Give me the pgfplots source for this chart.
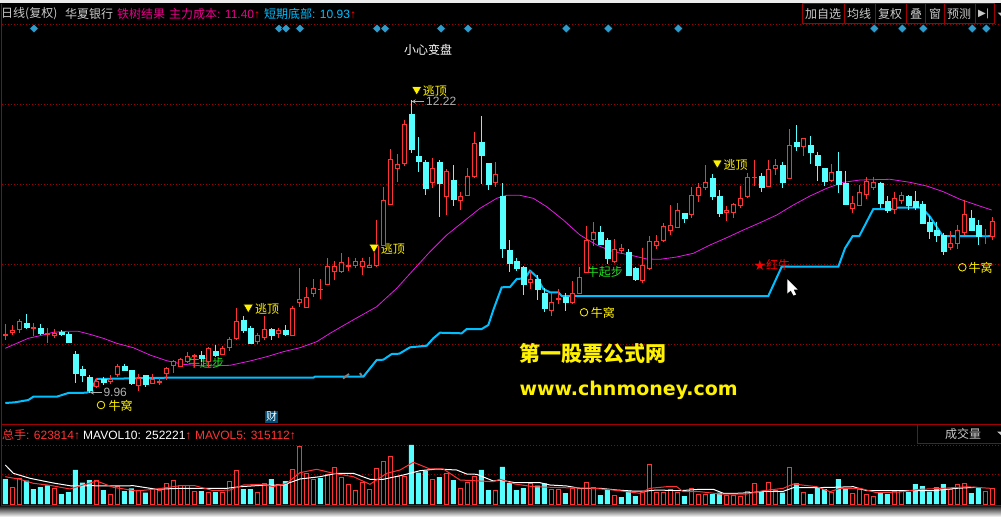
\documentclass[border=0pt]{standalone}
\usepackage{fontspec}
\usepackage{pgfplots}
\usepackage{pgfplotstable}
\pgfplotsset{compat=1.18}
\setmainfont{Liberation Sans}
\newfontfamily\cjk{Noto Sans CJK SC}
\newfontfamily\sym{DejaVu Sans}

\definecolor{kred}{HTML}{FF3333}
\definecolor{kcyan}{HTML}{55FFFF}
\definecolor{lineblue}{HTML}{00BFFF}
\definecolor{linemag}{HTML}{E818E8}
\definecolor{dimred}{HTML}{A00000}
\definecolor{diam}{HTML}{2E9BCB}
\definecolor{lab}{HTML}{C8C8C8}
\definecolor{arrowgray}{HTML}{B0B0B0}

% candles: bar number, body top, body bottom, high, low (picture rows, 0 at the top)
\pgfplotstableread{
i top bot high low
0 334.0 335.0 324.3 340.0
1 330.0 332.7 325.3 334.7
2 321.3 329.7 319.3 333.3
4 327.7 328.3 323.3 336.0
6 333.3 334.0 328.0 342.7
7 333.0 335.0 329.0 337.7
13 381.0 386.7 377.7 388.0
15 379.0 381.7 375.0 384.0
16 366.3 374.7 364.0 376.7
19 378.3 385.0 374.0 390.7
21 379.0 383.3 374.0 384.0
22 381.0 382.3 378.3 385.0
23 368.7 373.7 367.3 380.0
24 361.7 365.7 360.0 372.7
25 359.3 366.0 358.3 366.7
26 356.3 361.0 352.0 363.3
27 355.7 356.7 354.0 366.7
29 348.0 361.7 346.7 366.7
31 348.3 354.3 346.0 355.0
32 339.3 347.3 337.3 350.7
33 321.3 338.7 308.0 340.0
36 335.3 341.0 332.7 344.0
37 329.3 337.3 316.0 340.0
39 330.3 333.7 328.3 337.7
41 308.3 335.3 306.0 336.0
42 299.3 302.7 268.0 307.3
43 297.3 307.3 287.0 308.0
44 288.3 293.7 279.3 296.7
45 289.0 289.7 279.3 299.0
46 266.0 284.3 258.0 285.0
47 266.3 271.0 261.0 280.0
48 262.3 271.3 253.0 272.7
49 265.0 266.3 256.7 270.7
50 261.3 265.3 258.3 267.7
51 261.3 266.0 257.7 275.0
52 265.3 267.3 256.7 268.3
53 245.0 265.7 220.0 267.3
54 200.3 245.0 187.0 246.0
55 159.3 204.3 149.0 205.0
56 164.3 168.3 154.0 181.7
57 124.3 163.3 120.0 166.0
61 168.3 182.7 158.3 187.7
63 171.0 196.3 169.3 215.0
65 196.0 200.3 191.7 210.0
66 176.3 195.3 168.3 196.0
67 143.3 176.7 131.7 177.7
70 174.3 182.3 162.0 186.7
75 279.0 282.0 270.7 289.3
78 302.0 310.7 293.3 316.0
79 298.3 299.7 289.3 304.0
81 293.7 302.7 281.0 304.0
82 277.3 293.3 266.7 294.0
83 240.3 272.7 226.0 273.3
84 232.3 239.7 222.0 246.0
87 249.7 261.7 239.0 262.7
88 248.3 250.0 244.0 254.0
91 265.3 280.7 247.7 283.3
92 241.3 268.7 236.0 270.0
93 241.3 245.7 235.0 249.0
94 226.3 240.7 223.3 241.7
95 225.3 230.3 205.0 235.0
96 210.0 227.7 203.3 228.3
98 195.3 214.7 187.3 217.7
99 187.3 195.3 183.3 202.0
100 182.3 187.7 165.0 190.0
103 210.0 212.7 206.0 220.7
104 204.3 212.7 202.7 217.7
105 198.3 205.7 186.0 208.3
106 177.3 196.7 173.3 198.3
107 177.0 177.7 160.0 186.0
109 169.3 186.0 160.0 186.7
110 165.3 168.7 159.3 175.0
112 145.3 178.7 129.0 179.3
114 138.3 146.3 138.3 155.7
118 172.3 180.7 164.0 181.7
121 203.3 208.3 196.0 212.7
122 192.3 205.0 185.0 206.0
123 181.0 194.3 176.7 199.0
124 182.3 187.7 176.7 190.0
127 198.3 209.0 192.0 214.0
128 195.3 200.0 191.7 204.0
135 243.3 247.7 231.0 250.0
136 230.3 243.7 225.0 249.3
137 214.3 232.7 200.0 235.0
140 235.0 235.7 229.0 244.0
141 221.0 236.0 217.0 240.0
}\candlesred

\pgfplotstableread{
i top bot high low
3 323.0 327.0 314.0 329.0
5 328.0 333.3 324.3 335.0
8 332.3 333.7 330.0 335.7
9 334.3 342.0 331.7 343.3
10 354.0 373.0 351.0 382.7
11 369.0 375.0 366.0 381.7
12 377.3 390.0 375.0 392.7
14 378.7 381.7 376.7 384.7
17 366.0 369.7 364.0 370.0
18 370.0 382.7 370.0 384.7
20 375.0 384.0 375.0 386.7
28 355.0 358.0 351.0 361.7
30 351.0 355.0 345.0 356.7
34 320.0 330.0 316.0 332.7
35 328.0 343.3 326.0 344.0
38 329.0 335.0 328.3 340.0
40 330.0 334.3 325.0 336.0
58 114.0 149.3 100.0 153.3
59 156.0 160.7 137.3 171.7
60 162.0 187.7 160.0 195.0
62 162.0 183.0 160.0 216.7
64 180.0 198.7 165.0 206.0
68 142.0 155.0 116.0 184.0
69 163.3 184.3 163.3 190.0
71 196.3 247.7 183.3 258.3
72 250.0 262.7 240.0 271.7
73 261.0 267.7 258.3 270.7
74 267.3 283.7 266.0 295.0
76 279.0 289.0 275.0 300.0
77 293.0 308.0 288.3 311.7
80 296.7 301.7 293.3 311.0
85 232.0 244.0 226.0 245.0
86 240.0 257.7 238.0 264.0
89 252.0 275.0 249.3 276.0
90 268.0 279.0 266.7 280.7
97 213.0 217.7 212.7 223.3
101 178.0 196.0 174.0 200.0
102 196.0 212.7 190.0 216.7
108 176.0 187.0 173.3 192.0
111 165.3 182.0 161.7 187.7
113 142.0 145.7 125.0 150.7
115 145.0 151.7 136.0 164.0
116 155.0 164.7 151.7 181.0
117 168.3 181.0 168.3 186.0
119 171.0 184.0 152.0 192.7
120 182.7 204.3 171.0 205.0
125 182.7 202.7 181.7 208.3
126 201.0 210.0 196.0 213.3
129 196.0 205.0 195.0 210.0
130 201.0 206.7 191.0 210.0
131 204.0 223.3 201.0 224.0
132 222.0 230.7 216.0 239.0
133 230.0 235.0 221.7 241.7
134 235.0 251.0 232.7 255.0
138 218.0 230.0 210.0 230.7
139 225.0 236.0 220.0 245.0
}\candlescyan

% volume bars: bar number, height above the baseline
\pgfplotstableread{
i h
1 16.7
2 25.7
7 16
13 23.3
15 10
16 17.3
19 13.3
21 14.7
22 14
23 20.7
24 23.7
25 18.3
26 18.3
27 12.7
29 11.7
31 11.3
32 22.7
33 33.7
36 11.7
37 20.7
39 19.3
41 34.7
42 57.7
43 30.7
44 25
46 29
47 36.7
48 26.7
49 20
50 14
51 22
52 15
53 35.7
54 42.7
55 47.7
56 27.3
57 27.3
61 24.7
63 30
65 15.7
66 21.7
67 27.3
70 14
75 20.7
78 14.7
79 14.7
81 15.7
82 15.7
83 21.7
84 16.3
87 8.7
91 11.3
92 39.7
93 11.7
94 11.7
95 14.7
96 11.3
98 15.7
99 10
100 10
103 8.7
104 9
105 7.7
106 12.7
107 20.7
109 21.7
110 13.3
112 36.7
114 11.7
118 12
121 10.7
122 15
123 10
124 7.7
127 13
128 12.3
135 14.7
136 19.7
137 20.7
140 12.7
141 15.7
}\volred

\pgfplotstableread{
i h
0 25
3 23.3
4 15
5 17
6 18.7
8 10
9 12
10 34
11 21.3
12 24
14 14
17 13
18 15.7
20 11.3
28 13
30 12
34 15
35 15
38 25
40 23
45 26
58 59
59 31.3
60 33.3
62 27
64 24
68 34
69 14
71 37
72 21
73 14
74 16
76 18.3
77 20.7
80 11
85 9
86 14.3
88 7
89 13.3
90 8
97 8
101 10
102 11.3
108 12
111 11.3
113 20.7
115 10
116 16
117 15
119 25
120 16
125 12
126 10
129 12
130 20
131 18
132 12.3
133 16.7
134 20
138 11
139 16.3
}\volcyan

\pgfplotsset{
  pxaxis/.style={hide axis, scale only axis, xmin=0, xmax=1001, clip=false},
  candle/.style={
    scatter, only marks, mark=*, mark size=0pt,
    mark options={draw=none, fill=none},
    visualization depends on={\thisrow{bot}-\thisrow{top} \as \bodyh},
    visualization depends on={\thisrow{top}-\thisrow{high} \as \wickup},
    visualization depends on={\thisrow{low}-\thisrow{top} \as \wickdn},
    scatter/@post marker code/.code={\endscope},
  },
  griddot/.style={dimred, line width=0.8pt, dash pattern=on 1pt off 2pt},
}
\newcommand\lab[4][12]{\node[anchor=west, inner sep=0pt, font=\fontsize{#1}{#1}\selectfont] at (axis cs:#2,#3) {#4};}

\begin{document}
\begin{tikzpicture}
\path[use as bounding box] (0pt,0pt) rectangle (1001pt,517pt);
\fill[black] (0pt,0pt) rectangle (1001pt,517pt);
\fill[white!92!black] (0pt,513.5pt) rectangle (1001pt,517pt);
\shade[top color=black!90, bottom color=white] (0pt,0pt) rectangle (1001pt,11pt);

\begin{axis}[pxaxis, at={(0pt,0pt)}, anchor=south west, width=1001pt, height=517pt, ymin=0, ymax=517, y dir=reverse]
% grid and frame
\addplot[griddot] coordinates {(2,24) (1001,24)};
\addplot[griddot] coordinates {(2,104.3) (1001,104.3)};
\addplot[griddot] coordinates {(2,184.3) (1001,184.3)};
\addplot[griddot] coordinates {(2,264.3) (1001,264.3)};
\addplot[griddot] coordinates {(2,344.3) (1001,344.3)};
\addplot[griddot] coordinates {(2,445.3) (1001,445.3)};
\addplot[griddot] coordinates {(2,474.3) (1001,474.3)};
\addplot[dimred, line width=1pt] coordinates {(1,3.5) (1,505)};
\addplot[dimred, line width=1pt] coordinates {(1,424.5) (1001,424.5)};
\addplot[dimred, line width=1pt] coordinates {(1,505) (1001,505)};

% candles
\addplot[candle,
  scatter/@pre marker code/.code={%
    \scope
    \draw[kcyan, line width=1pt] (0,\wickup pt) -- (0,-\wickdn pt);
    \fill[kcyan] (-2.5pt,0pt) rectangle (2.5pt,-\bodyh pt);
  }] table[x expr={5.33+7*\thisrow{i}}, y=top] {\candlescyan};
\addplot[candle,
  scatter/@pre marker code/.code={%
    \scope
    \draw[kred, line width=1pt] (0,\wickup pt) -- (0,-\wickdn pt);
    \draw[kred, line width=1pt, fill=black] (-2pt,0pt) rectangle (2pt,-\bodyh pt);
  }] table[x expr={5.33+7*\thisrow{i}}, y=top] {\candlesred};

% 主力成本
\addplot[linemag, line width=0.8pt] coordinates {
(5.3,348.3) (16.7,343.3) (28.3,338.3) (40,335.7) (53.3,332.3) (66.7,331.3) (78.3,331.3) (90,334.3)
(103.3,338.3) (116.7,343.3) (133.3,347.7) (150,355) (166.7,360.7) (183.3,364.3) (200,365.7) (216.7,365.7)
(230,365.3) (250,361) (266.7,356.7) (283.3,351.7) (300,347.7) (316.7,341.7) (330,333.3) (350,321.7)
(376.7,306.7) (396.7,288.3) (413.3,270) (430,251.7) (446.7,235) (463.3,221.7) (480,208.3) (496.7,198.3)
(506.7,195.3) (520,195.3) (533.3,198.3) (546.7,206.7) (563.3,220) (580,235) (596.7,245) (613.3,251.7)
(630,255) (646.7,259) (660,259.3) (676.7,257) (693.3,253.3) (710,245) (726.7,237.7) (743.3,230)
(760,222.7) (776.7,215) (793.3,205) (810,196) (826.7,188.3) (843.3,182.3) (860,180) (890,179.3)
(910,182.3) (926.7,186) (943.3,191.7) (960,199.3) (976.7,205) (991.7,210)};

% 短期底部
\addplot[lineblue, line width=2pt] coordinates {
(5.3,403) (15,402.3) (28.3,400) (33.3,396.7) (56.7,396.7) (68.3,393) (86.7,392.7) (90,390.7) (96.7,379)
(166.7,377.7) (313.3,377.7) (315,376.7) (363.3,376.7) (376.7,360) (383.3,359.7) (391.7,354) (399.3,353.7)
(410,347.3) (426.7,345.7) (433.3,338.3) (440,332.7) (461.7,333.3) (466.7,329) (481.7,329) (488.3,325)
(493.3,310) (501.7,287.3) (510,287) (516.7,279) (525,278.3) (530,270.7) (536.7,276.7) (543.3,289)
(550,292.3) (558.3,292.3) (561.7,296) (768.3,296) (781.7,266.7) (838.3,266.7) (845,248.3) (852.7,236)
(859.3,236) (873.3,209) (893.3,209) (896.7,207.7) (921.7,207.7) (930,216.7) (942.7,236) (992.7,236)};

% small grey ticks on the line
\addplot[gray, line width=2pt] coordinates {(343,378.5) (349,374)};
\addplot[gray, line width=2pt] coordinates {(360,373) (362,376.5)};

% signal diamonds
\addplot[only marks, mark=square*, mark size=3.2pt, mark options={rotate=45, draw=none, fill=diam}] coordinates {
(34,28.5) (279,28.5) (286,28.5) (300,28.5) (377,28.5) (385,28.5) (441,28.5) (468,28.5)
(566.3,28.5) (608.3,28.5) (678.3,28.5) (874.3,28.5) (902.3,28.5) (923.3,28.5) (972.3,28.5) (986.3,28.5)};

% 逃顶 triangles
\addplot[only marks, mark=triangle*, mark size=5.5pt, mark options={rotate=180, draw=none, fill=yellow}] coordinates {
(248.3,307.2) (416.7,89.5) (374,247.2) (717.3,162.8)};
\lab{255}{309}{\color{yellow}\cjk 逃顶}
\lab{422.7}{91}{\color{yellow}\cjk 逃顶}
\lab{380.7}{249}{\color{yellow}\cjk 逃顶}
\lab{723.3}{165}{\color{yellow}\cjk 逃顶}

% 牛窝 rings
\addplot[only marks, mark=o, mark size=3.8pt, mark options={draw=yellow, line width=0.8pt}] coordinates {
(101,405) (584,312.3) (962.3,267.3)};
\lab{108.3}{406}{\color{yellow}\cjk 牛窝}
\lab{590.7}{313}{\color{yellow}\cjk 牛窝}
\lab{968.3}{268}{\color{yellow}\cjk 牛窝}

\definecolor{qigreen}{HTML}{22E022}
\lab{188}{363}{\color{qigreen}\cjk 牛起步}
\lab{586.7}{272}{\color{qigreen}\cjk 牛起步}
\lab[14]{753.5}{265}{\color{red}\sym ★}
\lab{766}{265}{\color{red}\cjk 红牛}
\lab{404}{50}{\color{white}\cjk 小心变盘}

% price callouts
\draw[arrowgray, -stealth, line width=0.8pt] (axis cs:424.3,101.5) -- (axis cs:411.7,101.5);
\lab{426}{101.5}{\color{arrowgray}12.22}
\draw[arrowgray, -stealth, line width=0.8pt] (axis cs:101.7,392.5) -- (axis cs:90,392.5);
\lab{103.3}{392.5}{\color{arrowgray}9.96}

% heading row
\lab{1}{14}{\color{lab}\cjk 日线(复权)}
\lab{65}{14}{\color{lab}\cjk 华夏银行}
\lab{117}{14}{\color{magenta}\cjk 铁树结果}
\lab{169}{14}{\color{magenta}{\cjk 主力成本}: 11.40{\color{red}↑}}
\lab{264}{14}{\color{lineblue}{\cjk 短期底部}: 10.93{\color{red}↑}}

% buttons
\draw[dimred, line width=1pt] (axis cs:802.5,3.5) rectangle (axis cs:844,23.5);
\draw[dimred, line width=1pt] (axis cs:844,3.5) rectangle (axis cs:875.5,23.5);
\draw[dimred, line width=1pt] (axis cs:875.5,3.5) rectangle (axis cs:906.5,23.5);
\draw[dimred, line width=1pt] (axis cs:906.5,3.5) rectangle (axis cs:925.5,23.5);
\draw[dimred, line width=1pt] (axis cs:925.5,3.5) rectangle (axis cs:944.5,23.5);
\draw[dimred, line width=1pt] (axis cs:944.5,3.5) rectangle (axis cs:975.5,23.5);
\draw[dimred, line width=1pt] (axis cs:975.5,3.5) rectangle (axis cs:994.5,23.5);
\lab{805}{14}{\color{lab}\cjk 加自选}
\lab{847}{14}{\color{lab}\cjk 均线}
\lab{878}{14}{\color{lab}\cjk 复权}
\lab{910}{14}{\color{lab}\cjk 叠}
\lab{929}{14}{\color{lab}\cjk 窗}
\lab{947}{14}{\color{lab}\cjk 预测}
\lab[10]{978}{14}{\color{lab}\sym ▶|}
\addplot[fill=lab, draw=none] coordinates {(997.5,12.5) (1001,12.5) (1001,16)} --cycle;

% 财 tag
\fill[blue!35!cyan!45!black] (axis cs:265,410.7) rectangle (axis cs:277.7,422.7);
\lab[11]{265.8}{416.7}{\color{white}\cjk 财}

% watermark
\lab[21]{519.3}{353}{\color{yellow}\cjk\bfseries 第一股票公式网}
\node[anchor=base west, inner sep=0pt, font=\fontsize{19}{19}\selectfont\sym\bfseries, text=yellow] at (axis cs:519.3,395.7) {www.chnmoney.com};

% mouse pointer
\addplot[fill=white, draw=none] coordinates {(787.3,279.3) (787.3,293.5) (790.7,290.5) (793.5,295.5) (796,294.5) (793.5,289.5) (797.5,289.5)} --cycle;

% volume heading
\lab{2}{435}{\color{kred}{\cjk 总手}: 623814↑}
\lab{83}{435}{\color{white}MAVOL10: 252221{\color{kred}↑}}
\lab{195}{435}{\color{kred}MAVOL5: 315112↑}
\draw[dimred, line width=1pt] (axis cs:917.5,424.5) -- (axis cs:917.5,443.5) -- (axis cs:1001,443.5);
\lab{945}{434}{\color{lab}\cjk 成交量}
\addplot[fill=lab, draw=none] coordinates {(997,431.5) (1001,431.5) (1001,435)} --cycle;
\end{axis}

\begin{axis}[pxaxis, at={(0pt,13pt)}, anchor=south west, width=1001pt, height=84pt, ymin=0, ymax=84]
\addplot[ybar, bar shift=0pt, bar width=5pt, draw=none, fill=kcyan] table[x expr={5.33+7*\thisrow{i}}, y=h] {\volcyan};
\addplot[ybar, bar shift=0pt, bar width=4pt, draw=kred, line width=1pt, fill=black] table[x expr={5.33+7*\thisrow{i}}, y=h] {\volred};
% MAVOL10
\addplot[white, line width=1pt] coordinates {
(5.3,39) (13.3,30.7) (30,25.7) (43.3,23) (55,20.7) (71.7,18) (90,18.3) (116.7,18) (133.3,18.3) (156.7,14.7)
(180,15.7) (226.7,15.7) (240,17.3) (266.7,19) (283.3,19) (300,25) (320,27.3) (336.7,30.7) (353.3,30.7)
(370,24.7) (383.3,24.7) (403.3,29) (420,33.3) (436.7,35) (456.7,34) (466.7,30) (476.7,29.7) (493.3,23)
(500,24) (515,21.3) (540,21.3) (550,19) (566.7,18) (580,15.7) (600,15.7) (616.7,14) (631.7,13) (646.7,13)
(656.7,14) (680,13.3) (700,14.7) (713.3,14.7) (723.3,10.7) (736.7,10.7) (750,11.3) (763.3,12.7) (783.3,12.7)
(793.3,16.3) (813.3,16.3) (833.3,16.7) (853.3,17.3) (866.7,13.3) (900,13.3) (933.3,13.3) (956.7,15.7) (976.7,16.7)};
% MAVOL5
\addplot[kred, line width=1pt] coordinates {
(5.3,27.3) (20,24.7) (33.3,20.7) (50,18.7) (70,15) (96.7,23) (113.3,16.7) (136.7,13) (156.7,15) (180,18.3)
(195,18.3) (213.3,13.3) (230,14) (243.3,19) (263.3,19.7) (273.3,17.3) (286.7,20.7) (300,31.3) (316.7,34.7)
(333.3,30.7) (353.3,27.3) (370,19.7) (386.7,30.7) (400,34) (413.3,41.7) (430,35) (443.3,35) (460,24)
(480,23) (493.3,22.3) (500,24.7) (515,20) (533.3,17.3) (563.3,16.3) (593.3,15.7) (613.3,14) (640,10.7)
(650,15.7) (666.7,17.3) (676.7,17.3) (683.3,12.3) (700,12.3) (720,10) (746.7,10) (763.3,13.3) (783.3,15.7)
(793.3,20) (816.7,17.3) (830,12.3) (840,15.7) (860,15.7) (876.7,11.3) (900,12) (920,14.7) (943.3,15.7)
(966.7,17.3) (990,15.7)};
\end{axis}
\end{tikzpicture}
\end{document}
